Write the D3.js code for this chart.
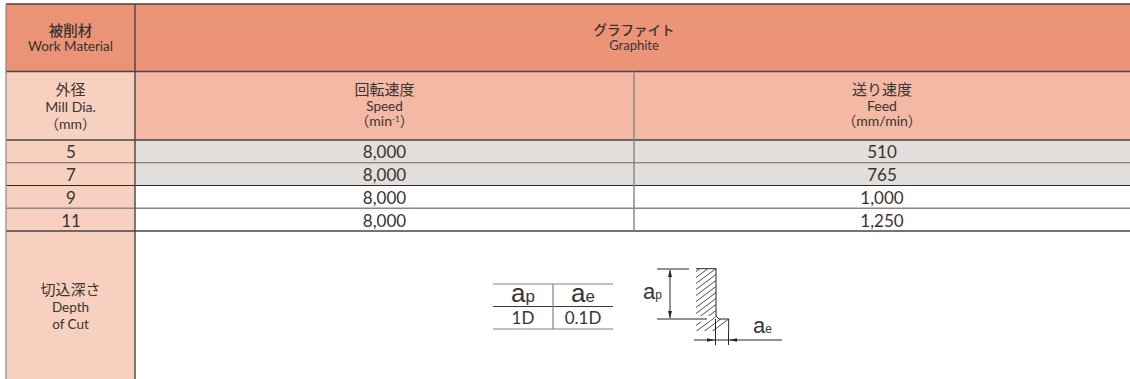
<!DOCTYPE html>
<html>
<head>
<meta charset="utf-8">
<script src="https://cdn.jsdelivr.net/npm/d3@7"></script>
<style>
  html, body { margin: 0; padding: 0; background: #fff; overflow: hidden; }
  text { font-family: Lato, "Noto Sans CJK JP", sans-serif; fill: #3b3331; }
</style>
</head>
<body>
<div id="chart"></div>
<script>
// table values
var millDia = ["5", "7", "9", "11"];
var speed = ["8,000", "8,000", "8,000", "8,000"];
var feed = ["510", "765", "1,000", "1,250"];
var shaded = [true, true, false, false];

var materialLabel = ["被削材", "Work Material"];
var graphiteLabel = ["グラファイト", "Graphite"];
var diaLabel = ["外径", "Mill Dia.", "（mm）"];
var speedLabel = ["回転速度", "Speed"];
var feedLabel = ["送り速度", "Feed", "（mm/min）"];
var depthLabel = ["切込深さ", "Depth", "of Cut"];

var cutHead = ["p", "e"];
var cutValues = ["1D", "0.1D"];

var width = 1130, height = 379;
var left = 6, col1 = 135, col2 = 634;
var rowY = [4, 71.5, 140, 231];

var svg = d3.select("#chart").append("svg")
    .attr("width", width)
    .attr("height", height)
    .style("display", "block");

// data rows
var y = d3.scaleBand().domain(d3.range(millDia.length)).range([rowY[2], rowY[3]]);

function rect(x0, y0, x1, y1, fill) {
    svg.append("rect")
        .attr("x", x0).attr("y", y0)
        .attr("width", x1 - x0).attr("height", y1 - y0)
        .attr("fill", fill);
}

function line(x1, y1, x2, y2, color, w) {
    svg.append("line")
        .attr("x1", x1).attr("y1", y1)
        .attr("x2", x2).attr("y2", y2)
        .attr("stroke", color)
        .attr("stroke-width", w);
}

// stacked text block: first line is the Japanese one
function label(cx, lines, top, step, size1, size2, bold) {
    lines.forEach(function (t, i) {
        svg.append("text")
            .attr("x", cx)
            .attr("y", top + i * step)
            .attr("text-anchor", "middle")
            .style("font-size", (i === 0 ? size1 : size2) + "px")
            .style("font-weight", (bold && i === 0) ? 500 : 400)
            .text(t);
    });
}

// backgrounds
rect(left, rowY[0], col1, rowY[1], "#ea9376");
rect(col1, rowY[0], width, rowY[1], "#eb9478");
rect(left, rowY[1], col1, rowY[2], "#f7d0bf");
rect(col1, rowY[1], width, rowY[2], "#f3b9a4");
rect(left, rowY[2], col1, height, "#f7d0bf");

svg.append("g").selectAll("rect")
    .data(shaded)
    .enter().append("rect")
    .attr("x", col1)
    .attr("y", function (d, i) { return y(i); })
    .attr("width", width - col1)
    .attr("height", y.bandwidth())
    .attr("fill", function (d) { return d ? "#e2dedb" : "#fff"; });

// header text
label((left + col1) / 2, materialLabel, 36, 15, 14.5, 13.5, true);
label(634, graphiteLabel, 35, 15, 13.5, 13, true);
label((left + col1) / 2, diaLabel, 95, 17, 15, 14);
label((col1 + col2) / 2, speedLabel, 95, 15.5, 15, 13.5);
label((col2 + width) / 2, feedLabel, 95, 15.5, 15, 14);

// speed unit has a superscript
var unit = svg.append("text")
    .attr("x", (col1 + col2) / 2)
    .attr("y", 126)
    .attr("text-anchor", "middle")
    .style("font-size", "14px");
unit.append("tspan").text("（min");
unit.append("tspan").attr("dy", -4).style("font-size", "8px").text("-1");
unit.append("tspan").attr("dy", 4).text("）");

label((left + col1) / 2, depthLabel, 295, 17, 15, 13.5);

// data rows text
function rowText(values, cx) {
    svg.append("g").selectAll("text")
        .data(values)
        .enter().append("text")
        .attr("x", cx)
        .attr("y", function (d, i) { return y(i) + y.bandwidth() / 2 + 1; })
        .attr("dy", "0.36em")
        .attr("text-anchor", "middle")
        .style("font-size", "17px")
        .text(function (d) { return d; });
}
rowText(millDia, 71);
rowText(speed, (col1 + col2) / 2);
rowText(feed, (col2 + width) / 2);

// grid lines
var dark = "#4a4341", mid = "#6b6562", light = "#8b8785";
line(left, rowY[0], width, rowY[0], dark, 1.5);
line(left, rowY[1], width, rowY[1], dark, 1.5);
line(left, rowY[2], width, rowY[2], dark, 1.3);
line(left, y(1), width, y(1), mid, 1.2);
line(left, y(2), width, y(2), "#2f2a29", 1);
line(left, y(3), width, y(3), light, 1.3);
line(left, rowY[3], width, rowY[3], dark, 1.3);
line(left, rowY[0], left, height, light, 1.2);
line(col1, rowY[0], col1, height, dark, 1.4);
line(col2, rowY[1], col2, rowY[3], light, 1.5);

// small ap / ae table
var cutX = d3.scaleBand().domain([0, 1]).range([493, 613]);
[284, 329].forEach(function (v) { line(493, v, 613, v, "#86827f", 1.2); });
line(493, 306.5, 613, 306.5, "#3c3634", 1);
line(553, 284, 553, 329, "#86827f", 1.2);

function apLabel(x, yPos, sub, big, small, anchor) {
    var t = svg.append("text")
        .attr("x", x)
        .attr("y", yPos)
        .attr("text-anchor", anchor)
        .style("font-family", "'Liberation Sans', sans-serif");
    t.append("tspan").style("font-size", big + "px").text("a");
    t.append("tspan").style("font-size", small + "px").text(sub);
}
cutHead.forEach(function (s, i) {
    apLabel(cutX(i) + cutX.bandwidth() / 2, 302, s, 26, 17, "middle");
});
cutValues.forEach(function (s, i) {
    svg.append("text")
        .attr("x", cutX(i) + cutX.bandwidth() / 2)
        .attr("y", 323.5)
        .attr("text-anchor", "middle")
        .style("font-size", "17px")
        .text(s);
});

// cut diagram
var ink = "#2b2624";
svg.append("defs").append("clipPath").attr("id", "hatch")
    .append("path")
    .attr("d", "M696,269H716V316L719,319H729V331H696V322H708L716,316H696Z");

svg.append("g").attr("clip-path", "url(#hatch)")
    .selectAll("line")
    .data(d3.range(270, 352, 6))
    .enter().append("line")
    .attr("x1", 690).attr("x2", 730)
    .attr("y1", function (d) { return d; })
    .attr("y2", function (d) { return d - 30; })
    .attr("stroke", "#3a3533")
    .attr("stroke-width", 0.9);

line(696, 268.7, 716.3, 268.7, ink, 1);
line(716, 268.5, 716, 316, ink, 1);
line(716, 316, 719, 319, ink, 1);
line(719, 319, 729, 319, ink, 1);
line(728.7, 319, 728.7, 331, ink, 1);
line(657, 269, 689, 269, ink, 1);
line(657, 319, 707, 319, ink, 1);
line(670, 270, 670, 318, ink, 1);
line(694, 340, 782, 340, ink, 1);
line(715.5, 319, 715.5, 345, ink, 1);
line(728.5, 331, 728.5, 345, ink, 1);

function arrow(points) {
    svg.append("path")
        .attr("d", d3.line()(points) + "Z")
        .attr("fill", ink);
}
arrow([[670, 269.5], [668, 277], [672, 277]]);
arrow([[670, 318.5], [668, 311], [672, 311]]);
arrow([[715, 340], [707, 338.2], [707, 341.8]]);
arrow([[729, 340], [737, 338.2], [737, 341.8]]);

apLabel(643, 299, "p", 22, 12, "start");
apLabel(753, 333, "e", 22, 12, "start");
</script>
</body>
</html>
